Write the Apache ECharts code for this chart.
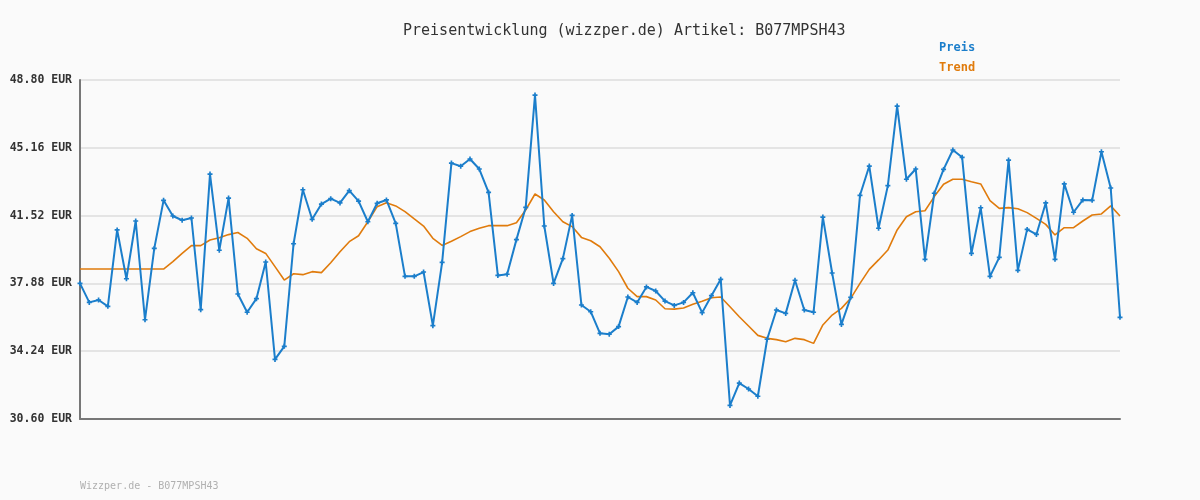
<!DOCTYPE html>
<html>
<head>
<meta charset="utf-8">
<script src="https://cdn.jsdelivr.net/npm/echarts@6/dist/echarts.min.js"></script>
<style>
html,body{margin:0;padding:0;background:#fafafa;}
#chart{width:1200px;height:500px;}
</style>
</head>
<body>
<div id="chart"></div>
<script>
const titleText = 'Preisentwicklung (wizzper.de) Artikel: B077MPSH43';
const footerText = 'Wizzper.de - B077MPSH43';
const seriesNames = ['Preis', 'Trend'];
const yTicks = [30.60, 34.24, 37.88, 41.52, 45.16, 48.80];

const preis = [
  37.88, 36.86, 36.99, 36.65, 40.75, 38.13, 41.23, 35.93, 39.76, 42.34,
  41.50, 41.27, 41.39, 36.47, 43.75, 39.66, 42.46, 37.31, 36.33, 37.06,
  39.03, 33.80, 34.50, 40.01, 42.91, 41.32, 42.14, 42.43, 42.20, 42.86,
  42.30, 41.19, 42.18, 42.36, 41.10, 38.26, 38.26, 38.49, 35.61, 39.01,
  44.34, 44.17, 44.56, 44.02, 42.77, 38.31, 38.37, 40.23, 41.96, 47.99,
  40.96, 37.88, 39.21, 41.53, 36.72, 36.36, 35.20, 35.15, 35.56, 37.15,
  36.86, 37.69, 37.47, 36.93, 36.70, 36.86, 37.38, 36.31, 37.22, 38.10,
  31.33, 32.53, 32.21, 31.82, 34.88, 36.45, 36.27, 38.05, 36.45, 36.33,
  41.44, 38.44, 35.68, 37.13, 42.61, 44.18, 40.84, 43.13, 47.40, 43.47,
  44.02, 39.17, 42.72, 44.00, 45.04, 44.65, 39.49, 41.94, 38.26, 39.28,
  44.50, 38.58, 40.78, 40.51, 42.20, 39.17, 43.22, 41.70, 42.36, 42.34,
  44.95, 43.00, 36.06
];

const trend = [
  38.65, 38.65, 38.65, 38.65, 38.65, 38.65, 38.65, 38.65, 38.65, 38.65,
  39.05, 39.49, 39.91, 39.91, 40.21, 40.33, 40.50, 40.61, 40.30, 39.74,
  39.49, 38.78, 38.06, 38.40, 38.35, 38.51, 38.46, 38.99, 39.58, 40.12,
  40.44, 41.19, 42.00, 42.21, 42.04, 41.73, 41.34, 40.96, 40.30, 39.92,
  40.14, 40.39, 40.66, 40.84, 40.98, 40.98, 40.98, 41.14, 41.82, 42.68,
  42.36, 41.73, 41.19, 40.93, 40.35, 40.17, 39.85, 39.23, 38.51, 37.62,
  37.17, 37.17, 36.99, 36.52, 36.50, 36.56, 36.76, 36.92, 37.11, 37.15,
  36.63, 36.09, 35.59, 35.09, 34.93, 34.86, 34.75, 34.93, 34.86, 34.66,
  35.65, 36.18, 36.54, 37.08, 37.88, 38.63, 39.14, 39.67, 40.75, 41.46,
  41.73, 41.78, 42.54, 43.20, 43.47, 43.47, 43.34, 43.22, 42.32, 41.91,
  41.95, 41.89, 41.68, 41.37, 41.05, 40.48, 40.87, 40.87, 41.23, 41.55,
  41.61, 42.04, 41.50
];

const categories = preis.map((_, i) => String(i + 1));

const BASE = yTicks[0];
const STEP = yTicks[1] - yTicks[0];
const TOP = yTicks[yTicks.length - 1];

const mono = '"DejaVu Sans Mono", "Liberation Mono", monospace';
const blue = '#1b7ecb';
const orange = '#e07b0c';

const chart = echarts.init(document.getElementById('chart'), null, {renderer: 'canvas'});
chart.setOption({
  backgroundColor: '#fafafa',
  animation: false,
  title: {
    text: titleText,
    left: 398,
    top: 19,
    textStyle: {fontFamily: mono, fontSize: 15, fontWeight: 'normal', color: '#333'}
  },
  graphic: [
    {type: 'text', left: 939, top: 42, style: {text: seriesNames[0], fill: blue, font: 'bold 12px ' + mono}},
    {type: 'text', left: 939, top: 62, style: {text: seriesNames[1], fill: orange, font: 'bold 12px ' + mono}},
    {type: 'text', left: 80, top: 481, style: {text: footerText, fill: '#b0b0b0', font: '10px ' + mono}}
  ],
  grid: {left: 80, right: 80, top: 80, bottom: 81, containLabel: false},
  xAxis: {
    type: 'category',
    data: categories,
    boundaryGap: false,
    axisLine: {show: true, lineStyle: {color: '#777', width: 2}},
    axisTick: {show: false},
    axisLabel: {show: false},
    splitLine: {show: false}
  },
  yAxis: {
    type: 'value',
    min: 0,
    max: +(TOP - BASE).toFixed(2),
    interval: +STEP.toFixed(2),
    axisLine: {show: true, lineStyle: {color: '#777', width: 2}},
    axisTick: {show: false},
    axisLabel: {
      margin: 8,
      fontFamily: mono,
      fontSize: 11.5,
      fontWeight: 'bold',
      color: '#333',
      formatter: v => (v + BASE).toFixed(2) + ' EUR'
    },
    splitLine: {show: true, lineStyle: {color: '#e4e4e4', width: 2}}
  },
  series: [
    {
      name: seriesNames[1],
      type: 'line',
      data: trend.map(v => +(v - BASE).toFixed(3)),
      symbol: 'none',
      lineStyle: {color: orange, width: 1.6},
      z: 2
    },
    {
      name: seriesNames[0],
      type: 'line',
      data: preis.map(v => +(v - BASE).toFixed(3)),
      symbol: 'path://M2,0H4V2H6V4H4V6H2V4H0V2H2Z',
      symbolSize: 5,
      itemStyle: {color: blue},
      lineStyle: {color: blue, width: 2},
      z: 3
    }
  ]
});
</script>
</body>
</html>
